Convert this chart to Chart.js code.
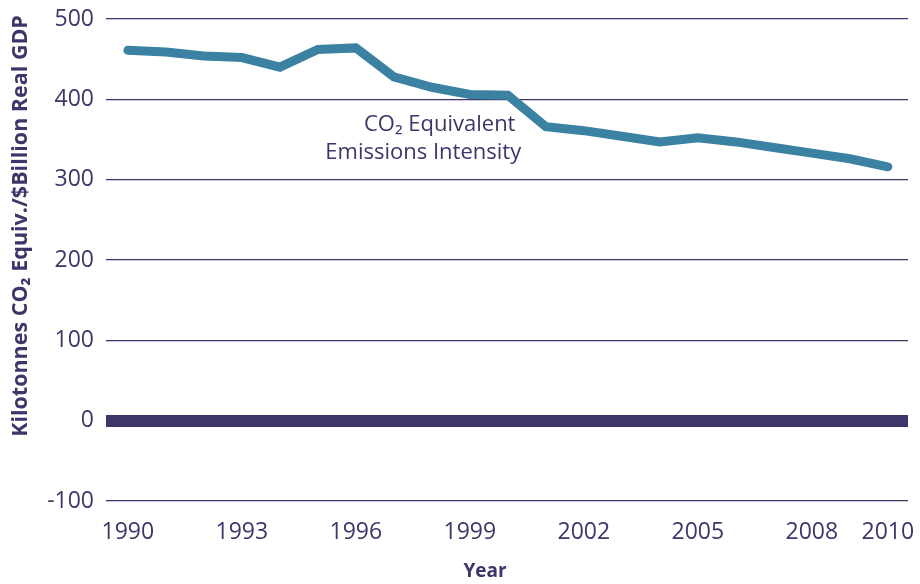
<!DOCTYPE html>
<html><head><meta charset="utf-8">
<script src="https://cdn.jsdelivr.net/npm/chart.js@4"></script>
<style>html,body{margin:0;padding:0;background:#fff}#wrap{width:920px;height:584px}</style>
</head><body><div id="wrap"><canvas id="c" width="920" height="584"></canvas></div>
<script>
const years = [1990,1991,1992,1993,1994,1995,1996,1997,1998,1999,2000,2001,2002,2003,2004,2005,2006,2007,2008,2009,2010];
const intensity = [461,459,454,452,440,462,464,428,415,406,405,366,361,354,347,352,347,340,333,326,316];
const xTicks = [1990,1993,1996,1999,2002,2005,2008,2010];
const yTicks = [-100,0,100,200,300,400,500];
const seriesLabel = ['CO\u2082 Equivalent','Emissions Intensity'];
const yTitle = 'Kilotonnes CO\u2082 Equiv./$Billion Real GDP';
const xTitle = 'Year';

const ink = '#3e3569';
const textPlugin = {
  id:'texts',
  afterDraw(chart){
    const c = chart.ctx, xs = chart.scales.x, ys = chart.scales.y;
    c.save();
    c.fillStyle = ink;
    c.font = '22px "Open Sans", sans-serif';
    c.textAlign = 'right'; c.textBaseline = 'middle';
    c.fillText(seriesLabel[0], xs.getPixelForValue(2000.2), ys.getPixelForValue(369));
    c.fillText(seriesLabel[1], xs.getPixelForValue(2000.35), ys.getPixelForValue(334));
    c.font = 'bold 19px "Open Sans", sans-serif';
    c.textAlign = 'center';
    c.fillText(xTitle, 485, 572);
    c.font = 'bold 21.5px "Open Sans", sans-serif';
    c.translate(21, 226);
    c.rotate(-Math.PI/2);
    c.fillText(yTitle, 0, 0);
    c.restore();
  }
};

new Chart(document.getElementById('c'), {
  type:'line',
  data:{ datasets:[{
    data: years.map((y,i)=>({x:y,y:intensity[i]})),
    borderColor:'#3b81a1', borderWidth:9, pointRadius:0,
    borderCapStyle:'round', borderJoinStyle:'miter', tension:0, fill:false
  }]},
  options:{
    responsive:false, animation:false, devicePixelRatio:1,
    layout:{padding:{left:0,right:12,top:19,bottom:0}},
    plugins:{legend:{display:false},tooltip:{enabled:false}},
    scales:{
      x:{type:'linear', min:1989.53, max:2010.53,
        afterBuildTicks(s){ s.ticks = xTicks.map(v=>({value:v})); },
        afterFit(s){ s.height = 83; s.paddingLeft = 0; s.paddingRight = 0; },
        grid:{display:false}, border:{display:false},
        ticks:{color:ink, padding:10, maxRotation:0, autoSkip:false,
          font:{family:'"Liberation Sans Narrow", "Open Sans", sans-serif', size:23},
          callback:v=>String(v)}
      },
      y:{min:-100, max:500,
        afterBuildTicks(s){ s.ticks = yTicks.map(v=>({value:v})); },
        afterFit(s){ s.width = 110; s.paddingTop = 0; s.paddingBottom = 0; },
        border:{display:false},
        grid:{color:ink, lineWidth:c=>c.tick && c.tick.value===0 ? 12 : 1.3, tickLength:4, drawTicks:true},
        ticks:{color:ink, padding:12, font:{family:'"Open Sans", sans-serif', size:23}, callback:v=>String(v)}
      }
    }
  },
  plugins:[textPlugin]
});
</script></body></html>
